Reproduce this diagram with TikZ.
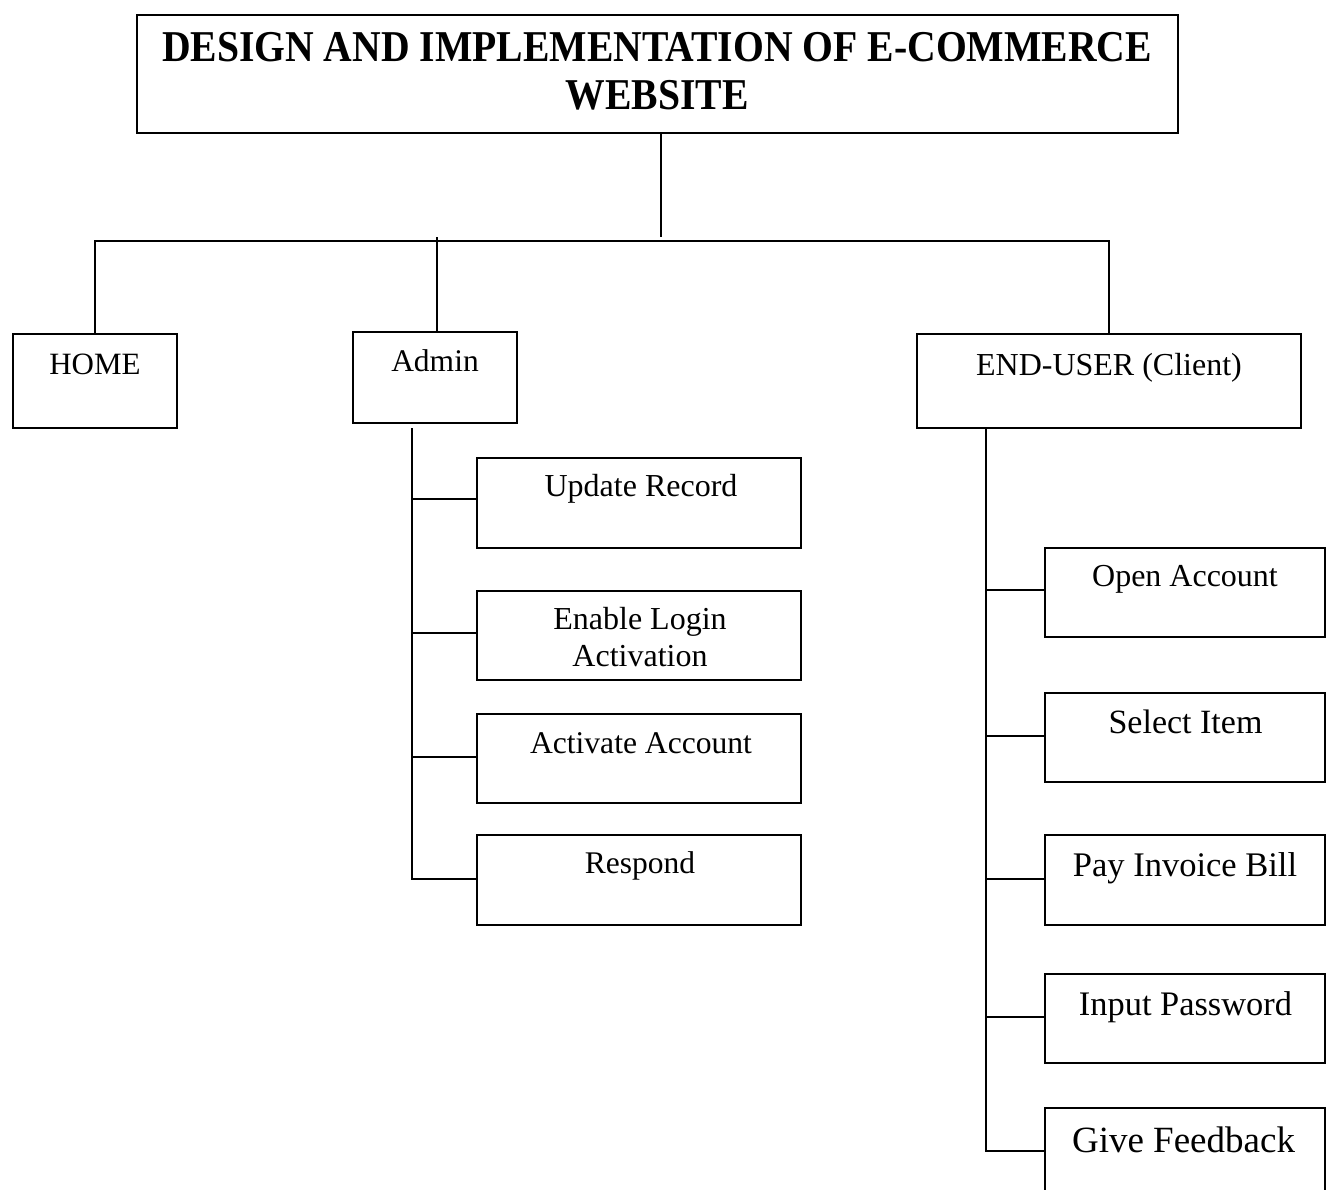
\documentclass[tikz,border=0pt]{standalone}
\usepackage{fontspec}
\usepackage{graphicx}
\setmainfont{Liberation Serif}
\usetikzlibrary{fit}

\tikzset{
  box/.style={draw, line width=2pt, inner sep=0pt},
  wire/.style={line width=2pt},
  lbl/.style={anchor=base, inner sep=0pt},
}
\newcommand{\fs}[1]{\fontsize{#1}{1.16\dimexpr#1pt\relax}\selectfont}

\begin{document}
\begin{tikzpicture}[x=1pt, y=-1pt]
  \useasboundingbox (0,0) rectangle (1331,1190);
  \fill[white] (0,0) rectangle (1331,1190);

  % boxes
  \node[box, fit={(137,15) (1178,133)}] (title) {};
  \node[box, fit={(13,334) (177,428)}] (home) {};
  \node[box, fit={(353,332) (517,423)}] (admin) {};
  \node[box, fit={(917,334) (1301,428)}] (enduser) {};

  \node[box, fit={(477,458) (801,548)}] (ur) {};
  \node[box, fit={(477,591) (801,680)}] (el) {};
  \node[box, fit={(477,714) (801,803)}] (aa) {};
  \node[box, fit={(477,835) (801,925)}] (rs) {};

  \node[box, fit={(1045,548) (1325,637)}] (oa) {};
  \node[box, fit={(1045,693) (1325,782)}] (si) {};
  \node[box, fit={(1045,835) (1325,925)}] (pi) {};
  \node[box, fit={(1045,974) (1325,1063)}] (ip) {};
  \node[box, fit={(1045,1108) (1325,1197)}] (gf) {};

  % labels
  \node[lbl] (title-t) at (657,62) {\resizebox{990pt}{\height}{\fontsize{44}{48}\selectfont\bfseries
    \begin{tabular}[t]{@{}c@{}}DESIGN AND IMPLEMENTATION OF E-COMMERCE\\ WEBSITE\end{tabular}}};
  \node[lbl] (home-t) at (95,374) {\fs{31}HOME};
  \node[lbl] (admin-t) at (435,371) {\fs{31.5}Admin};
  \node[lbl] (enduser-t) at (1109,375) {\fs{32}END-USER (Client)};

  \node[lbl] (ur-t) at (641,496) {\fs{32}Update Record};
  \node[lbl] (el-t) at (640,629) {\fontsize{32}{37}\selectfont
    \begin{tabular}[t]{@{}c@{}}Enable Login\\ Activation\end{tabular}};
  \node[lbl] (aa-t) at (641,753) {\fs{31.6}Activate Account};
  \node[lbl] (rs-t) at (640,873) {\fs{31.5}Respond};

  \node[lbl] (oa-t) at (1185,586) {\fs{32}Open Account};
  \node[lbl] (si-t) at (1185.5,733) {\fs{34}Select Item};
  \node[lbl] (pi-t) at (1185,876) {\fs{34.5}Pay Invoice Bill};
  \node[lbl] (ip-t) at (1185.5,1015) {\fs{34.4}Input Password};
  \node[lbl] (gf-t) at (1183.5,1152) {\fs{37}Give Feedback};

  % junction points of the tree
  \coordinate (tj) at (661,237);
  \coordinate (bus) at (661,241);
  \coordinate (ad) at (437,237);
  \coordinate (ajs) at (412,428);
  \coordinate (ejs) at (986,428);

  % top level
  \draw[wire] (title.south -| tj) -- (tj);
  \draw[wire] (home.north) |- (bus) -| (enduser.north);
  \draw[wire] (admin.north -| ad) -- (ad);

  % admin branches (each meets its box a little above the middle)
  \foreach \b/\s in {ur/4, el/2.5, aa/1.5, rs/1}
    \draw[wire] (ajs) |- ([yshift=\s pt]\b.west);

  % end-user branches
  \foreach \b/\s in {oa/2.5, si/1.5, pi/1, ip/1.5, gf/1.5}
    \draw[wire] (ejs) |- ([yshift=\s pt]\b.west);
\end{tikzpicture}
\end{document}
